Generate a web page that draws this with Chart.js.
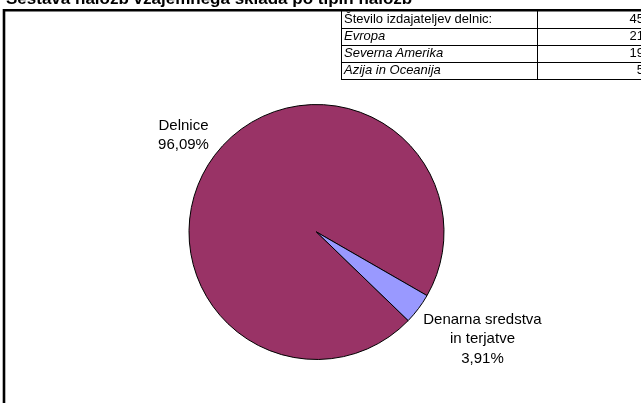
<!DOCTYPE html>
<html><head><meta charset="utf-8">
<script src="https://cdn.jsdelivr.net/npm/chart.js@4/dist/chart.umd.min.js"></script>
<style>
html,body{margin:0;padding:0;background:#fff;overflow:hidden;width:641px;height:403px;}
#wrap{position:relative;width:641px;height:403px;overflow:hidden;}
#c{position:absolute;left:0;top:0;}
#title{position:absolute;left:6px;top:-10px;font:bold 17px "Liberation Sans",Arial,sans-serif;line-height:17px;white-space:nowrap;color:#000;}
#tbl{position:absolute;left:341px;top:9px;width:308px;border-collapse:collapse;font:13px "Liberation Sans",Arial,sans-serif;color:#000;table-layout:fixed;}
#tbl td{border:1.5px solid #000;padding:0 2px;line-height:13px;vertical-align:top;white-space:nowrap;}
#tbl tr.first td{padding-top:1.5px;}
#tbl td.v{text-align:right;padding-right:5px;}
#tbl tr.it td.l{font-style:italic;}
</style></head>
<body>
<div id="wrap">
<canvas id="c" width="641" height="403"></canvas>
<div id="title"></div>
<table id="tbl"><colgroup><col style="width:196px"><col style="width:112px"></colgroup><tbody></tbody></table>
</div>
<script>
// ---- data ----
const chartTitle = 'Sestava naložb vzajemnega sklada po tipih naložb';
const categories = ['Delnice', 'Denarna sredstva in terjatve'];
const categoryLines = [['Delnice'], ['Denarna sredstva', 'in terjatve']];
const shares = [96.09, 3.91];
const sliceColors = ['#993366', '#9999FF'];
const tableLabels = ['Število izdajateljev delnic:', 'Evropa', 'Severna Amerika', 'Azija in Oceanija'];
const tableValues = [45, 21, 19, 5];

// ---- title & table ----
document.getElementById('title').textContent = chartTitle;
const tb = document.querySelector('#tbl tbody');
tableLabels.forEach((lab, i) => {
  const tr = document.createElement('tr');
  tr.className = i > 0 ? 'it' : 'first';
  tr.style.height = (i === 0 ? 19 : 17) + 'px';
  const a = document.createElement('td'); a.className = 'l'; a.textContent = lab;
  const b = document.createElement('td'); b.className = 'v'; b.textContent = String(tableValues[i]);
  tr.appendChild(a); tr.appendChild(b); tb.appendChild(tr);
});

const fmtPct = v => v.toFixed(2).replace('.', ',') + '%';
const labelGaps = [13.5, 21];

const framePlugin = {
  id: 'frame',
  beforeDraw(chart) {
    const ctx = chart.ctx;
    ctx.save();
    ctx.fillStyle = '#fff';
    ctx.fillRect(0, 0, chart.width, chart.height);
    ctx.strokeStyle = '#000';
    ctx.lineWidth = 2.6;
    ctx.beginPath();
    ctx.moveTo(4, 800);
    ctx.lineTo(4, 10.3);
    ctx.lineTo(800, 10.3);
    ctx.stroke();
    ctx.restore();
  }
};

const labelPlugin = {
  id: 'sliceLabels',
  afterDatasetsDraw(chart) {
    const ctx = chart.ctx;
    const meta = chart.getDatasetMeta(0);
    const lh = 19.5;
    ctx.save();
    ctx.font = '15px "Liberation Sans", Arial, sans-serif';
    ctx.fillStyle = '#000';
    ctx.textAlign = 'center';
    ctx.textBaseline = 'middle';
    meta.data.forEach((arc, i) => {
      const p = arc.getProps(['x', 'y', 'startAngle', 'endAngle', 'outerRadius'], true);
      const mid = (p.startAngle + p.endAngle) / 2;
      const dx = Math.cos(mid), dy = Math.sin(mid);
      const lines = categoryLines[i].concat([fmtPct(shares[i])]);
      const w = Math.max(...lines.map(l => ctx.measureText(l).width));
      const h = lines.length * lh;
      const r = p.outerRadius + labelGaps[i];
      const cx = p.x + dx * r + dx * w / 2;
      const cy = p.y + dy * r + dy * h / 2;
      lines.forEach((l, j) => ctx.fillText(l, cx, cy + (j - (lines.length - 1) / 2) * lh));
    });
    ctx.restore();
  }
};

new Chart(document.getElementById('c'), {
  type: 'pie',
  data: {
    labels: categories,
    datasets: [{
      data: shares,
      backgroundColor: sliceColors,
      borderColor: '#000',
      borderWidth: 1,
      borderAlign: 'center'
    }]
  },
  options: {
    responsive: false,
    animation: false,
    rotation: 134,
    layout: { padding: { left: 188, right: 196, top: 104, bottom: 43 } },
    plugins: { legend: { display: false }, tooltip: { enabled: false }, title: { display: false } }
  },
  plugins: [framePlugin, labelPlugin]
});
</script>
</body></html>
